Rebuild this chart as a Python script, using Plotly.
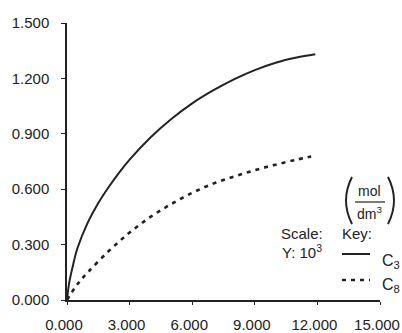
import plotly.graph_objects as go

# ---- data (x in 10^3 units, y in 10^3 units) ----
c3_x = [0, 0.1, 0.25, 0.5, 1.0, 1.5, 2.0, 2.5, 3.0, 4.0, 5.0, 6.0, 7.0, 8.0, 9.0, 10.0, 11.0, 11.9]
c3_y = [0, 0.09, 0.17, 0.28, 0.42, 0.525, 0.612, 0.69, 0.76, 0.88, 0.98, 1.065, 1.135, 1.195, 1.245, 1.285, 1.313, 1.331]

c8_x = [0, 0.5, 1.0, 2.0, 3.0, 4.0, 5.0, 6.0, 7.0, 8.0, 9.0, 10.0, 11.0, 11.7]
c8_y = [0, 0.085, 0.15, 0.265, 0.365, 0.45, 0.52, 0.58, 0.63, 0.668, 0.703, 0.733, 0.76, 0.777]

x_ticks = [0, 3, 6, 9, 12, 15]
y_ticks = [0, 0.3, 0.6, 0.9, 1.2, 1.5]
x_tick_labels = ["0.000", "3.000", "6.000", "9.000", "12.000", "15.000"]
y_tick_labels = ["0.000", "0.300", "0.600", "0.900", "1.200", "1.500"]

INK = "#222222"
FONT = "Liberation Sans, Arial, sans-serif"

W, H = 402, 333
L, R, T, B = 67, 22, 23, 33
PW, PH = W - L - R, H - T - B


def px(x):
    return (x - L) / PW


def py(y):
    return (H - B - y) / PH


fig = go.Figure()
fig.add_trace(go.Scatter(x=c3_x, y=c3_y, mode="lines",
                         line=dict(color=INK, width=2, shape="spline", smoothing=1.0),
                         showlegend=False, hoverinfo="skip"))
fig.add_trace(go.Scatter(x=c8_x, y=c8_y, mode="lines",
                         line=dict(color=INK, width=2.6, dash="4px,5px", shape="spline", smoothing=1.0),
                         showlegend=False, hoverinfo="skip"))

axis_common = dict(showgrid=False, zeroline=False, showline=True, linecolor=INK, linewidth=1.5,
                   ticks="outside", tickcolor=INK, tickwidth=1.2, ticklabeloverflow="allow",
                   automargin=False,
                   tickfont=dict(family=FONT, size=15, color=INK), fixedrange=True)

fig.update_xaxes(range=[0, 15], tickvals=x_ticks, ticktext=x_tick_labels, ticklen=3,
                 ticklabelstandoff=7, ticklabelshift=-3, **axis_common)
fig.update_yaxes(range=[0, 1.5], tickvals=y_ticks, ticktext=y_tick_labels, ticklen=4,
                 ticklabelstandoff=9, **axis_common)

annos = []


def txt(x, y, s, size=15, xanchor="left"):
    annos.append(dict(x=px(x), y=py(y), xref="paper", yref="paper", text=s, showarrow=False,
                      xanchor=xanchor, yanchor="middle",
                      font=dict(family=FONT, size=size, color=INK)))


txt(279, 233, "Scale:")
txt(280, 251, "Y: 10<sup>3</sup>")
txt(340, 233, "Key:")
txt(380, 261, "C<sub>3</sub>", size=16)
txt(380, 285, "C<sub>8</sub>", size=16)
txt(369, 191, "mol", size=14, xanchor="center")
txt(369, 213, "dm<sup>3</sup>", size=14, xanchor="center")

shapes = []
# legend lines
shapes.append(dict(type="line", xref="paper", yref="paper", x0=px(342), x1=px(370), y0=py(254), y1=py(254),
                   line=dict(color=INK, width=2)))
shapes.append(dict(type="line", xref="paper", yref="paper", x0=px(342), x1=px(370), y0=py(280), y1=py(280),
                   line=dict(color=INK, width=2.6, dash="4px,5px")))
# fraction bar
shapes.append(dict(type="line", xref="paper", yref="paper", x0=px(355), x1=px(385), y0=py(202), y1=py(202),
                   line=dict(color=INK, width=1.2)))
# big parentheses
lp = f"M {px(352)},{py(177)} Q {px(340)},{py(200.5)} {px(352)},{py(224)}"
rp = f"M {px(388)},{py(177)} Q {px(400)},{py(200.5)} {px(388)},{py(224)}"
shapes.append(dict(type="path", xref="paper", yref="paper", path=lp, line=dict(color=INK, width=2)))
shapes.append(dict(type="path", xref="paper", yref="paper", path=rp, line=dict(color=INK, width=2)))

fig.update_layout(width=W, height=H, margin=dict(l=L, r=R, t=T, b=B, pad=0),
                  plot_bgcolor="white", paper_bgcolor="white",
                  annotations=annos, shapes=shapes, showlegend=False)

fig.write_html("out.html", config={"displayModeBar": False})
